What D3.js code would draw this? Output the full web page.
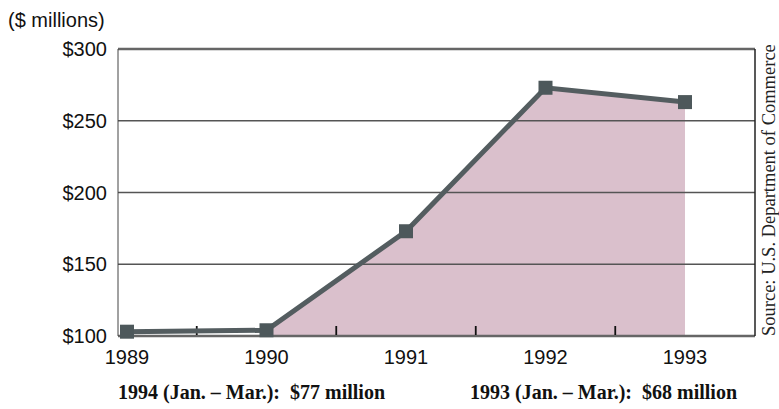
<!DOCTYPE html>
<html>
<head>
<meta charset="utf-8" />
<title>Exports chart</title>
<script src="https://d3js.org/d3.v7.min.js"></script>
<style>
  body { margin: 0; background: #fff; }
  text { white-space: pre; }
</style>
</head>
<body>
<svg id="chart" width="779" height="409"></svg>
<script>
// chart data
var years = ["1989", "1990", "1991", "1992", "1993"];
var values = [103, 104, 173, 273, 263];
var yTicks = [100, 150, 200, 250, 300];
var notes = ["1994 (Jan. \u2013 Mar.):  $77 million", "1993 (Jan. \u2013 Mar.):  $68 million"];

var svg = d3.select("#chart");
var plotL = 118, plotR = 755, plotT = 49, plotB = 336;

var x = d3.scalePoint().domain(years).range([127, 685]);
var y = d3.scaleLinear().domain([100, 300]).range([plotB, plotT]);

// shaded area (starts at 1990)
var area = d3.area()
    .x(function(d) { return x(d.year); })
    .y0(plotB)
    .y1(function(d) { return y(d.value); });
var pts = years.map(function(yr, i) { return { year: yr, value: values[i] }; });
svg.append("path")
    .datum(pts.slice(1))
    .attr("d", area)
    .attr("fill", "#dac0cc");

// gridlines
svg.selectAll(".grid")
    .data(yTicks.filter(function(t) { return t > 100 && t < 300; }))
    .enter().append("line")
    .attr("x1", plotL).attr("x2", plotR)
    .attr("y1", function(d) { return y(d); })
    .attr("y2", function(d) { return y(d); })
    .attr("stroke", "#555")
    .attr("stroke-width", 1.6);

// frame
svg.append("line").attr("x1", plotL).attr("x2", plotR).attr("y1", y(300)).attr("y2", y(300))
    .attr("stroke", "#666").attr("stroke-width", 2.5);
svg.append("line").attr("x1", plotL).attr("x2", plotR).attr("y1", plotB).attr("y2", plotB)
    .attr("stroke", "#666").attr("stroke-width", 2.5);
svg.append("line").attr("x1", plotL).attr("x2", plotL).attr("y1", y(300)).attr("y2", plotB)
    .attr("stroke", "#444").attr("stroke-width", 1);
svg.append("line").attr("x1", plotR).attr("x2", plotR).attr("y1", y(300)).attr("y2", plotB)
    .attr("stroke", "#222").attr("stroke-width", 1.5);

// small ticks between years
var mids = years.slice(0, -1).map(function(yr, i) { return (x(yr) + x(years[i + 1])) / 2; });
svg.selectAll(".mtick")
    .data(mids)
    .enter().append("line")
    .attr("x1", function(d) { return d; }).attr("x2", function(d) { return d; })
    .attr("y1", plotB - 10).attr("y2", plotB - 1)
    .attr("stroke", "#111").attr("stroke-width", 1.8);

// line and markers
var line = d3.line()
    .x(function(d) { return x(d.year); })
    .y(function(d) { return y(d.value); });
svg.append("path")
    .datum(pts)
    .attr("d", line)
    .attr("fill", "none")
    .attr("stroke", "#545d60")
    .attr("stroke-width", 5);

svg.selectAll(".mk")
    .data(pts)
    .enter().append("rect")
    .attr("x", function(d) { return x(d.year) - 7; })
    .attr("y", function(d) { return y(d.value) - 7; })
    .attr("width", 14).attr("height", 14)
    .attr("fill", "#4d585b");

// y labels
svg.selectAll(".ylab")
    .data(yTicks)
    .enter().append("text")
    .attr("x", 107)
    .attr("y", function(d) { return y(d) + 7; })
    .attr("text-anchor", "end")
    .style("font-family", "Liberation Sans, Arial, sans-serif")
    .style("font-size", "20px")
    .attr("fill", "#111")
    .text(function(d) { return "$" + d; });

svg.append("text")
    .attr("x", 8).attr("y", 27)
    .style("font-family", "Liberation Sans, Arial, sans-serif")
    .style("font-size", "20px")
    .attr("fill", "#111")
    .text("($ millions)");

// x labels
svg.selectAll(".xlab")
    .data(years)
    .enter().append("text")
    .attr("x", function(d) { return x(d); })
    .attr("y", 364)
    .attr("text-anchor", "middle")
    .style("font-family", "Liberation Sans, Arial, sans-serif")
    .style("font-size", "20px")
    .attr("fill", "#111")
    .text(function(d) { return d; });

// notes below
svg.selectAll(".note")
    .data(notes)
    .enter().append("text")
    .attr("x", function(d, i) { return i == 0 ? 118 : 470; })
    .attr("y", 399)
    .style("font-family", "Liberation Serif, Times New Roman, serif")
    .style("font-weight", "bold")
    .style("font-size", "20px")
    .attr("fill", "#111")
    .text(function(d) { return d; });

// source
svg.append("text")
    .attr("transform", "translate(775," + plotB + ") rotate(-90)")
    .style("font-family", "Liberation Serif, Times New Roman, serif")
    .style("font-size", "18.5px")
    .attr("fill", "#222")
    .text("Source: U.S. Department of Commerce");
</script>
</body>
</html>
